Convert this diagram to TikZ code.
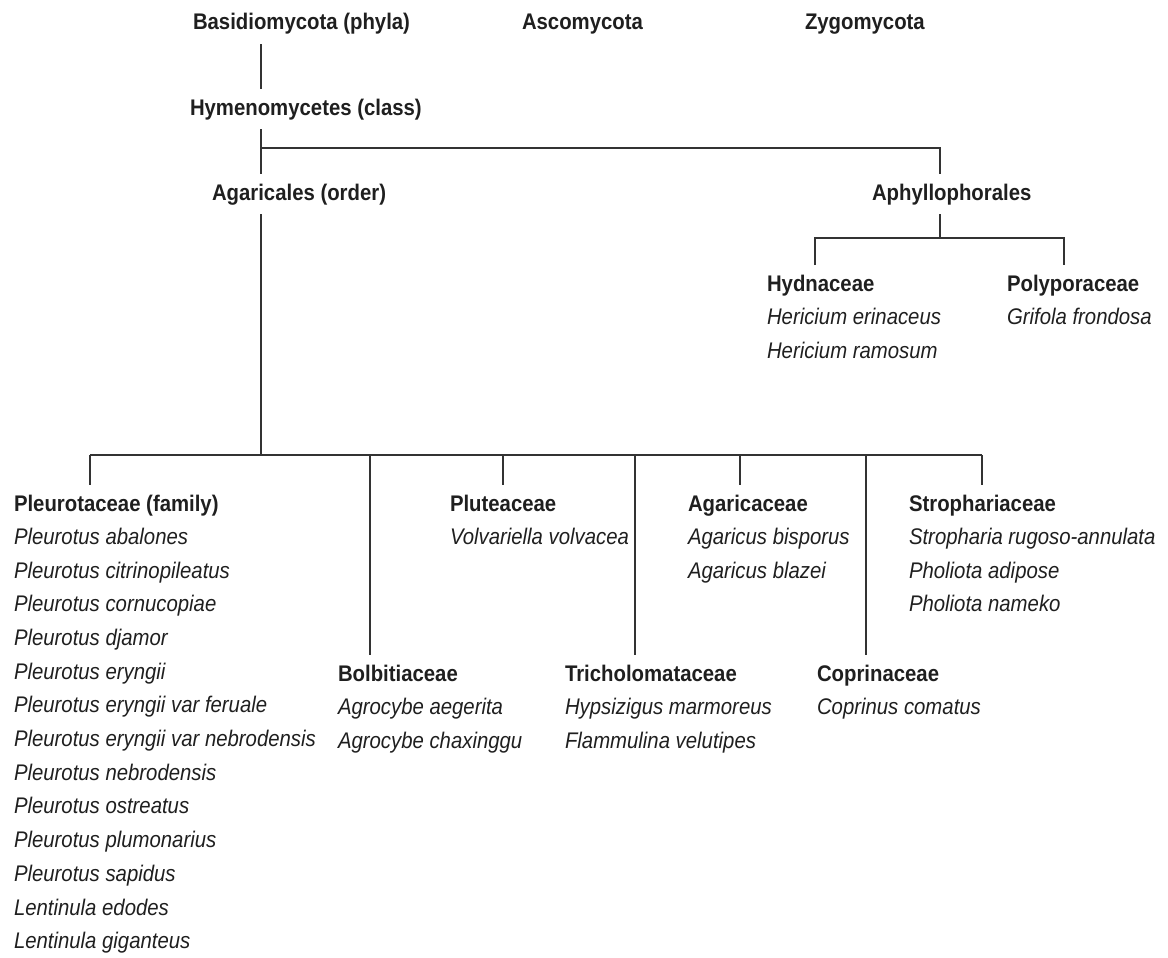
\documentclass[tikz,border=0pt]{standalone}
\usepackage{fontspec}
\setmainfont{Liberation Sans}[FakeStretch=0.9]
\usepackage{tikz}

\begin{document}
\begin{tikzpicture}[
    x=0.5pt, y=-0.5pt,
    taxon/.style={anchor=base west, font=\fontsize{11.3pt}{16.85pt}\selectfont\bfseries, text=black!88,
        text height=8.5pt, text depth=2.5pt, inner xsep=0pt, inner ysep=3pt, outer sep=1.5pt, xshift=-1.5pt},
    species/.style={anchor=north west, align=left, font=\fontsize{11.3pt}{16.85pt}\selectfont\itshape, text=black!88,
        inner xsep=0pt, inner ysep=1.5pt, outer sep=0pt, xshift=1.5pt},
    link/.style={draw=black!80, line width=0.75pt}
]
\useasboundingbox (0,0) rectangle (1168,958);

% Nodes
\node[taxon] (basidio) at (193, 30) {Basidiomycota (phyla)};
\node[taxon] (asco) at (522, 30) {Ascomycota};
\node[taxon] (zygo) at (805, 30) {Zygomycota};
\node[taxon] (hymeno) at (190, 115) {Hymenomycetes (class)};
\node[taxon] (agaricales) at (212, 200) {Agaricales (order)};
\node[taxon] (aphyllo) at (872, 200) {Aphyllophorales};

\node[taxon] (hydna) at (767, 291) {Hydnaceae};
\node[species] (hydnasp) at (hydna.south west) {Hericium erinaceus\\Hericium ramosum};
\node[taxon] (polypor) at (1007, 291) {Polyporaceae};
\node[species] (polyporsp) at (polypor.south west) {Grifola frondosa};

\node[taxon] (pleuro) at (14, 511) {Pleurotaceae (family)};
\node[species] (pleurosp) at (pleuro.south west) {Pleurotus abalones\\Pleurotus citrinopileatus\\Pleurotus cornucopiae\\Pleurotus djamor\\Pleurotus eryngii\\Pleurotus eryngii var feruale\\Pleurotus eryngii var nebrodensis\\Pleurotus nebrodensis\\Pleurotus ostreatus\\Pleurotus plumonarius\\Pleurotus sapidus\\Lentinula edodes\\Lentinula giganteus};
\node[taxon] (pluteac) at (450, 511) {Pluteaceae};
\node[species] (pluteacsp) at (pluteac.south west) {Volvariella volvacea};
\node[taxon] (agaricac) at (688, 511) {Agaricaceae};
\node[species] (agaricacsp) at (agaricac.south west) {Agaricus bisporus\\Agaricus blazei};
\node[taxon] (stroph) at (909, 511) {Strophariaceae};
\node[species] (strophsp) at (stroph.south west) {Stropharia rugoso-annulata\\Pholiota adipose\\Pholiota nameko};

\node[taxon] (bolbit) at (338, 681) {Bolbitiaceae};
\node[species] (bolbitsp) at (bolbit.south west) {Agrocybe aegerita\\Agrocybe chaxinggu};
\node[taxon] (tricho) at (565, 681) {Tricholomataceae};
\node[species] (trichosp) at (tricho.south west) {Hypsizigus marmoreus\\Flammulina velutipes};
\node[taxon] (coprin) at (817, 681) {Coprinaceae};
\node[species] (coprinsp) at (coprin.south west) {Coprinus comatus};

% Junctions
\coordinate (top) at (261, 148);
\coordinate (aph) at (940, 148);
\coordinate (hub) at (940, 238);
\coordinate (h1) at (815, 238);
\coordinate (h2) at (1064, 238);
\coordinate (bus) at (261, 455);
\coordinate (d1) at (90, 455);
\coordinate (d2) at (370, 455);
\coordinate (d3) at (503, 455);
\coordinate (d4) at (635, 455);
\coordinate (d5) at (740, 455);
\coordinate (d6) at (866, 455);
\coordinate (d7) at (982, 455);

% Lines
\draw[link] (basidio.south -| top) -- (hymeno.north -| top);
\draw[link] (hymeno.south -| top) -- (agaricales.north -| top);
\draw[link] (top) -- (aph) -- (aphyllo.north -| aph);
\draw[link] (aphyllo.south -| hub) -- (hub);
\draw[link] (hydna.north -| h1) -- (h1) -- (h2) -- (polypor.north -| h2);
\draw[link] (agaricales.south -| bus) -- (bus);
\draw[link] (d1) -- (d7);
\draw[link] (d1) -- (d1 |- pleuro.north);
\draw[link] (d2) -- (d2 |- bolbit.north);
\draw[link] (d3) -- (d3 |- pluteac.north);
\draw[link] (d4) -- (d4 |- tricho.north);
\draw[link] (d5) -- (d5 |- agaricac.north);
\draw[link] (d6) -- (d6 |- coprin.north);
\draw[link] (d7) -- (d7 |- stroph.north);

\end{tikzpicture}
\end{document}
